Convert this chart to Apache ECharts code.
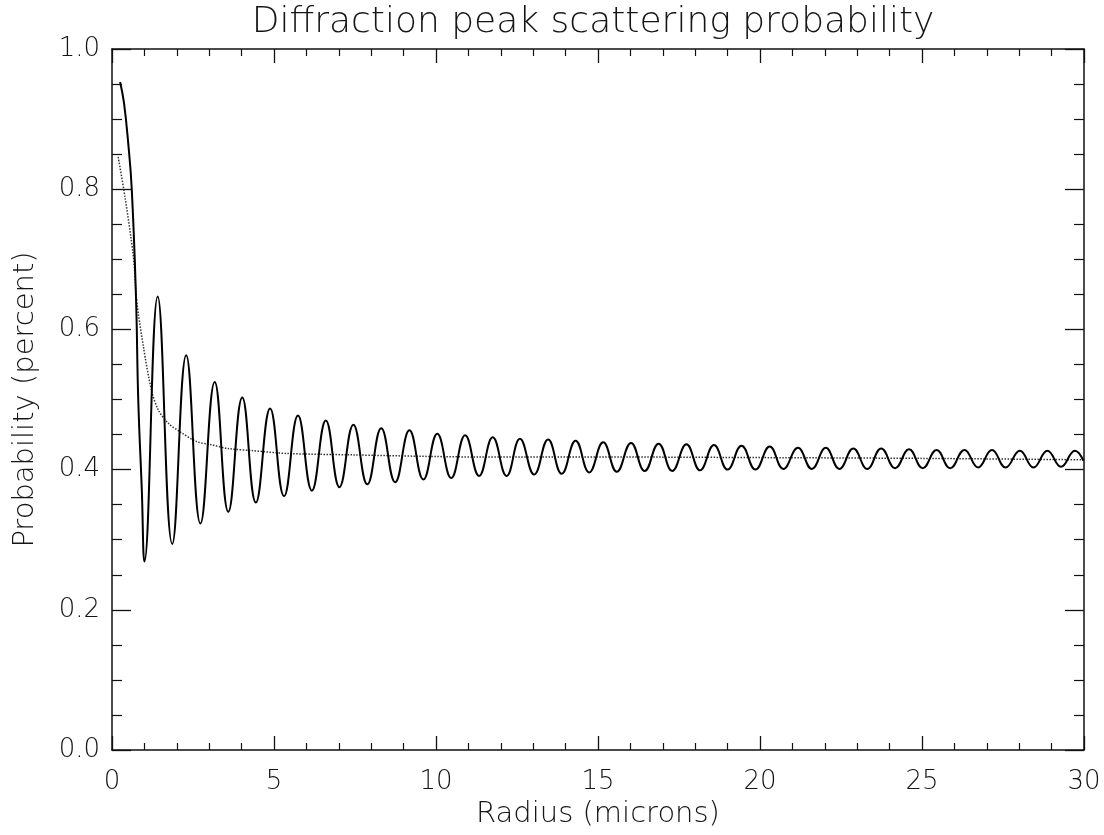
<!DOCTYPE html>
<html>
<head>
<meta charset="utf-8">
<script src="https://cdn.jsdelivr.net/npm/echarts@6/dist/echarts.min.js"></script>
<style>
html,body{margin:0;padding:0;background:#fff;}
#chart{width:1104px;height:835px;}
</style>
</head>
<body>
<div id="chart"></div>
<script>
// ---- data ----
const titleText = 'Diffraction peak scattering probability';
const xName = 'Radius (microns)';
const yName = 'Probability (percent)';

// solid curve (oscillating): start of descent, then successive extrema
const solidRadius = [0.25, 0.37, 0.50, 0.61, 0.74, 0.81, 0.92, 1.00,
  1.41, 1.86, 2.29, 2.73, 3.17, 3.59, 4.02, 4.44, 4.88, 5.31, 5.74, 6.17,
  6.60, 7.02, 7.45, 7.88, 8.31, 8.74, 9.18, 9.61, 10.04, 10.47, 10.90, 11.33,
  11.75, 12.18, 12.59, 13.03, 13.46, 13.88, 14.31, 14.73, 15.16, 15.58, 16.02, 16.44,
  16.87, 17.29, 17.73, 18.15, 18.58, 19.00, 19.43, 19.86, 20.30, 20.72, 21.17, 21.60,
  22.03, 22.45, 22.88, 23.31, 23.74, 24.17, 24.60, 25.02, 25.45, 25.87, 26.31, 26.73,
  27.16, 27.58, 28.02, 28.44, 28.87, 29.29, 29.72, 29.98];
const solidProb = [0.953, 0.923, 0.866, 0.800, 0.647, 0.500, 0.371, 0.269,
  0.647, 0.294, 0.563, 0.323, 0.525, 0.340, 0.503, 0.353, 0.487, 0.362, 0.477, 0.370,
  0.470, 0.375, 0.464, 0.379, 0.459, 0.382, 0.456, 0.386, 0.451, 0.388, 0.449, 0.391,
  0.446, 0.391, 0.444, 0.393, 0.443, 0.394, 0.441, 0.396, 0.439, 0.397, 0.438, 0.398,
  0.437, 0.398, 0.436, 0.399, 0.435, 0.400, 0.434, 0.400, 0.433, 0.401, 0.431, 0.401,
  0.431, 0.401, 0.430, 0.401, 0.430, 0.402, 0.429, 0.402, 0.428, 0.402, 0.428, 0.403,
  0.428, 0.403, 0.427, 0.403, 0.427, 0.404, 0.427, 0.413];

// dotted curve (mean level)
const dottedRadius = [0.19, 0.40, 0.66, 0.76, 0.97, 1.22, 1.43, 1.74, 2.10, 2.61, 3.02,
  3.59, 4.36, 5.39, 7.45, 9.51, 11.36, 15.00, 20.60, 25.00, 29.97];
const dottedProb = [0.846, 0.789, 0.704, 0.642, 0.575, 0.513, 0.485, 0.466, 0.454, 0.440, 0.436,
  0.430, 0.427, 0.423, 0.421, 0.419, 0.418, 0.418, 0.417, 0.416, 0.414];

const xMin = 0, xMax = 30, xStep = 5;
const yMin = 0, yMax = 1.0, yStep = 0.2;

// ---- build chart ----
function pairs(xs, ys) {
  const n = Math.min(xs.length, ys.length);
  const out = [];
  for (let i = 0; i < n; i++) out.push([xs[i], ys[i]]);
  return out;
}

const FONT = 'DejaVu Sans';
const FW = 200;
const txtCol = '#151515';
const lineCol = '#111';

function xAxisDef(pos, showLabel) {
  return {
    type: 'value', position: pos, min: xMin, max: xMax, interval: xStep,
    gridIndex: 0,
    axisLine: { show: true, onZero: false, lineStyle: { color: lineCol, width: 1.5 } },
    axisTick: { show: true, inside: true, length: 14, lineStyle: { color: lineCol, width: 1.3 } },
    minorTick: { show: true, splitNumber: 5, length: 7, lineStyle: { color: lineCol, width: 1.2 } },
    splitLine: { show: false },
    axisLabel: { show: showLabel, fontFamily: FONT, fontWeight: FW, fontSize: 26, color: txtCol, margin: 19,
      formatter: v => String(v) },
    name: showLabel ? xName : '',
    nameLocation: 'middle', nameGap: 42,
    nameTextStyle: { fontFamily: FONT, fontWeight: FW, fontSize: 29, color: txtCol }
  };
}
function yAxisDef(pos, showLabel) {
  return {
    type: 'value', position: pos, min: yMin, max: yMax, interval: yStep,
    gridIndex: 0,
    axisLine: { show: true, onZero: false, lineStyle: { color: lineCol, width: 1.5 } },
    axisTick: { show: true, inside: true, length: 19, lineStyle: { color: lineCol, width: 1.3 } },
    minorTick: { show: true, splitNumber: 4, length: 10, lineStyle: { color: lineCol, width: 1.2 } },
    splitLine: { show: false },
    axisLabel: { show: showLabel, fontFamily: FONT, fontWeight: FW, fontSize: 26, color: txtCol, margin: 12,
      formatter: v => v.toFixed(1) },
    name: showLabel ? yName : '',
    nameLocation: 'middle', nameGap: 72,
    nameTextStyle: { fontFamily: FONT, fontWeight: FW, fontSize: 29, color: txtCol }
  };
}

const chart = echarts.init(document.getElementById('chart'), null, { renderer: 'canvas' });
chart.setOption({
  backgroundColor: '#fff',
  animation: false,
  title: {
    text: titleText, left: 588, top: 0, textAlign: 'center',
    textStyle: { fontFamily: FONT, fontSize: 36, fontWeight: FW, color: txtCol }
  },
  grid: { left: 112, right: 20, top: 49, bottom: 85, containLabel: false },
  xAxis: [xAxisDef('bottom', true), xAxisDef('top', false)],
  yAxis: [yAxisDef('left', true), yAxisDef('right', false)],
  series: [
    {
      type: 'line', xAxisIndex: 0, yAxisIndex: 0,
      data: pairs(dottedRadius, dottedProb),
      showSymbol: false, smooth: 0.3,
      lineStyle: { color: '#333', width: 1.5, type: [1.5, 1.5] },
      z: 2
    },
    {
      type: 'line', xAxisIndex: 0, yAxisIndex: 0,
      data: pairs(solidRadius, solidProb),
      showSymbol: false, smooth: 0.45,
      lineStyle: { color: '#000', width: 2 },
      z: 3
    }
  ]
});
</script>
</body>
</html>
